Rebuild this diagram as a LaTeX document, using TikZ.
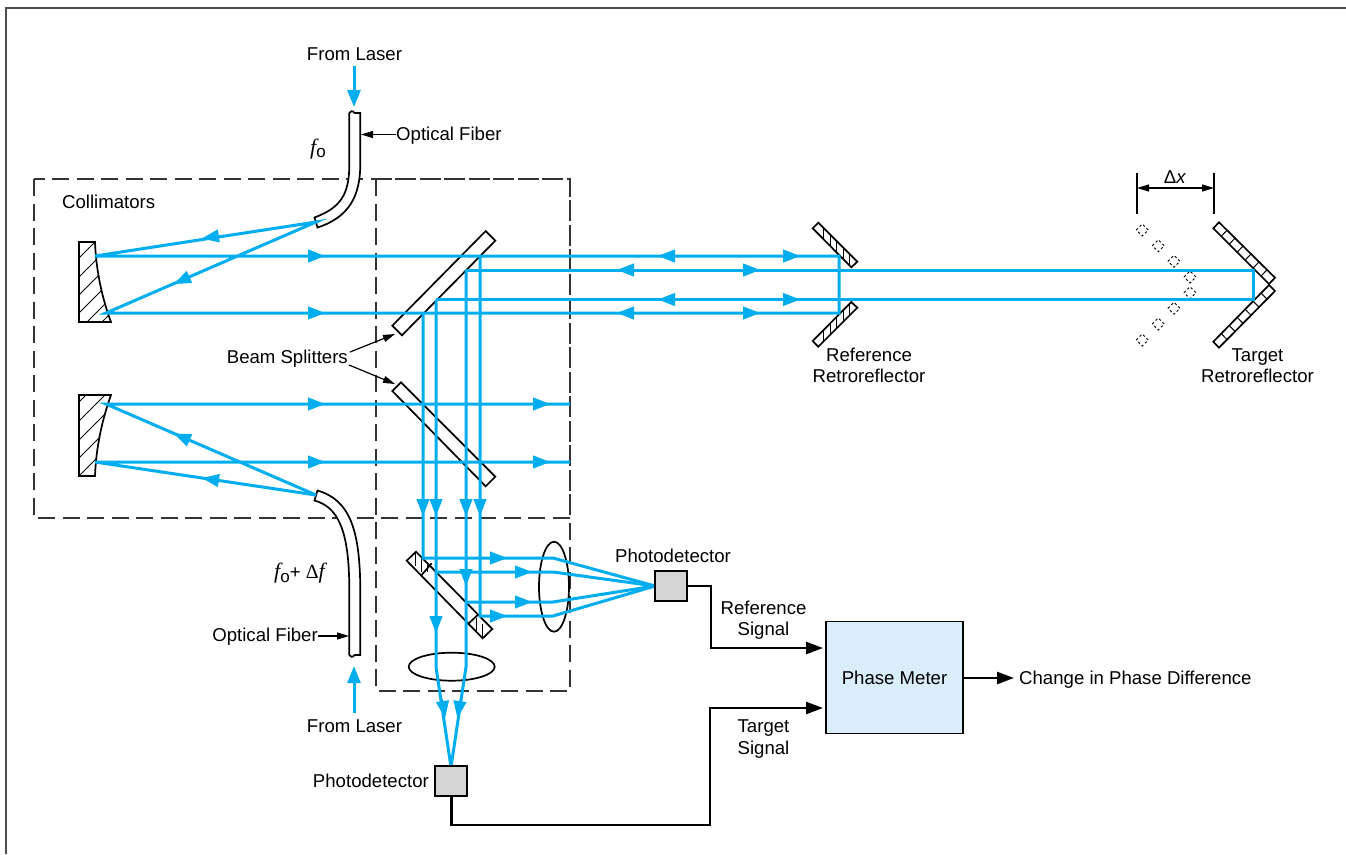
\documentclass[tikz,border=0pt]{standalone}
\usepackage{fontspec}
\setmainfont{Liberation Sans}
\newfontfamily\serifit{Liberation Serif}
\usetikzlibrary{arrows.meta,calc}
\definecolor{beamc}{HTML}{00AEEF}
\definecolor{dashc}{HTML}{333333}
\definecolor{pdgray}{HTML}{D4D4D4}
\definecolor{meterc}{HTML}{DAEDFB}
\tikzset{
  lab/.style={font=\fontsize{18.6}{21.3}\selectfont,align=center,inner sep=0pt},
  beam/.style={draw=beamc,line width=3pt,line join=miter},
  head/.style={draw=beamc,line width=1pt,-{Triangle[length=17pt,width=13pt,fill=beamc]}},
  frameline/.style={draw=black!70,line width=2pt},
  box/.style={draw=dashc,line width=1.5pt,dash pattern=on 17pt off 7.5pt},
  optic/.style={draw=black,line width=1.7pt,fill=white,line join=miter},
  hatch/.style={draw=black,line width=1pt},
  thinarrow/.style={draw=black,line width=1.2pt,-{Triangle[length=12pt,width=7pt,fill=black]}},
  signal/.style={draw=black,line width=2.4pt,-{Triangle[length=17pt,width=12pt,fill=black]}},
  detector/.style={draw=black,line width=1.8pt,fill=pdgray,minimum width=32pt,minimum height=30pt,inner sep=0pt},
  meter/.style={draw=black,line width=1.8pt,fill=meterc,minimum width=137pt,minimum height=112pt,inner sep=0pt,font=\fontsize{18.6}{21}\selectfont},
  ghost/.style={draw=black,line width=.9pt,dash pattern=on 2.4pt off 2.4pt}
}
\newcommand\ah[2]{\draw[head] (#2) -- (#1);}
\newcommand\ff{{\fontsize{22}{22}\selectfont\serifit\itshape f}}
\newcommand\oo{\raisebox{-3.5pt}{\fontsize{17}{17}\selectfont o}}
\begin{document}
\begin{tikzpicture}[x=1pt,y=-1pt]
\useasboundingbox (0,0) rectangle (1346,854);
% frame
\draw[frameline] (5.5,854) -- (5.5,7.5) -- (1346,7.5);
% dashed boxes
\draw[box] (34,179) rectangle (570,518);
\draw[box] (376,179) rectangle (570,691);

% upper mirror
\begin{scope}
 \clip (79,242) -- (95,242) .. controls (96,270) and (102,298) .. (111,322) -- (79,322) -- cycle;
 \foreach \yy in {258,277,295,313,330,345} {\draw[hatch] (79,\yy) -- ++(45,-45);}
\end{scope}
\draw[optic,fill=none] (79,242) -- (95,242) .. controls (96,270) and (102,298) .. (111,322) -- (79,322) -- cycle;
% lower mirror
\begin{scope}
 \clip (79,476) -- (95,476) .. controls (96,448) and (102,420) .. (111,395) -- (79,395) -- cycle;
 \foreach \yy in {402,421,440,458,476} {\draw[hatch] (79,\yy) -- ++(50,-50);}
\end{scope}
\draw[optic,fill=none] (79,476) -- (95,476) .. controls (96,448) and (102,420) .. (111,395) -- (79,395) -- cycle;

% fibers
\draw[optic] (349.3,113) .. controls (350,110.5) and (353,110.5) .. (354.5,113) -- (360.3,113) -- (360.3,165)
  .. controls (360,195) and (350,217) .. (317.5,227.5) -- (314.5,217.5)
  .. controls (340,208) and (349.3,195) .. (349.3,165) -- cycle;
\draw[optic] (349.3,655) .. controls (350,657.5) and (353,657.5) .. (354.5,655) -- (360.3,655) -- (360.3,590)
  .. controls (360,530) and (350,500) .. (317.5,490.5) -- (314.5,500.5)
  .. controls (338,507) and (349.3,530) .. (349.3,590) -- cycle;

% beam splitters
\draw[optic] (485.7,231) -- (495.3,240.7) -- (402,335.3) -- (392.3,325.7) -- cycle;
\draw[optic] (401,382.3) -- (392.3,391) -- (485.7,486.3) -- (495.3,476.7) -- cycle;
\draw[optic] (416,551.7) -- (406.7,560.7) -- (482.7,638.3) -- (492.3,629) -- cycle;
\draw[optic] (431.7,563.3) -- (421,575.7);
\draw[optic] (477.7,615) -- (467.7,624.3);
\foreach \xa/\ya/\ha in {415/553/13,421.7/559/13,427/565/7}
  {\draw[hatch] (\xa,\ya) -- ++(0,\ha);}
\foreach \xa/\ya/\ha in {476/618/13,482.7/624/13}
  {\draw[hatch] (\xa,\ya) -- ++(0,\ha);}

% lenses
\draw[optic,fill=none] (451.7,666.7) ellipse [x radius=43,y radius=14];
\draw[optic,fill=none] (554,586.7) ellipse [x radius=15,y radius=45];

% reference retroreflector
\draw[optic] (818.3,222.7) -- (857.3,261.7) -- (851.3,267.3) -- (812.7,228.3) -- cycle;
\draw[optic] (857.3,307.7) -- (851.3,302) -- (812.7,341) -- (818.3,346.7) -- cycle;
\foreach \xx in {823,830,836.5,843,849.5} {
  \draw[hatch] (\xx,{222.7+\xx-818.3}) -- (\xx,{228.3+\xx-812.7});
  \draw[hatch] (\xx,{346.7-\xx+818.3}) -- (\xx,{341-\xx+812.7});
}
% target retroreflector
\draw[optic] (1219,222.3) -- (1275,277.7) -- (1269,284) -- (1213.3,228.3) -- cycle;
\draw[optic] (1275,291) -- (1269,285) -- (1213.3,341.7) -- (1219,347.7) -- cycle;
\foreach \t in {1,...,6} {
  \draw[hatch] ({1219+56*\t/7},{222.3+55.4*\t/7}) -- ({1213.3+55.7*\t/7},{228.3+55.7*\t/7});
  \draw[hatch] ({1219+56*\t/7},{347.7-56.7*\t/7}) -- ({1213.3+55.7*\t/7},{341.7-56.7*\t/7});
}
% displaced position
\foreach \gx/\gy in {1142.3/230,1158.3/245.7,1174/261.3,1190/277,1190/292.7,1174/308.3,1158.3/324,1142.3/340}
  {\draw[ghost] (\gx-6,\gy) -- (\gx,\gy-6) -- (\gx+6,\gy) -- (\gx,\gy+6) -- cycle;}

% beams: collimated paths
\draw[beam] (316,222) -- (95,256) -- (839,256) -- (839,313) -- (106,313) -- cycle;
\draw[beam] (316,495) -- (95,462) -- (570,462);
\draw[beam] (316,495) -- (106,404) -- (570,404);
\draw[beam] (480,256) -- (480,616) -- (553,616) -- (655,586);
\draw[beam] (466,270) -- (466,667) -- (451,767);
\draw[beam] (436,300) -- (436,667) -- (451,767);
\draw[beam] (423,313) -- (423,558) -- (553,558) -- (655,586);
\draw[beam] (436,572) -- (553,572) -- (655,586);
\draw[beam] (466,602) -- (553,602) -- (655,586);
\draw[beam] (466,270) -- (1253,270) -- (1253,299.5) -- (436,299.5);

\coordinate (laserA) at (354,66);
\coordinate (fiberA) at (354,107);
\coordinate (laserB) at (354,713);
\coordinate (fiberB) at (354,666);
\draw[beam,-{Triangle[length=17pt,width=13pt,fill=beamc]}] (laserA) -- (fiberA);
\draw[beam,-{Triangle[length=17pt,width=13pt,fill=beamc]}] (laserB) -- (fiberB);

% arrowheads
\foreach \yy in {256,313,404,462} {\ah{325,\yy}{300,\yy}}
\foreach \yy in {404,462} {\ah{550,\yy}{525,\yy}}
\foreach \yy in {256,299.5} {\ah{658,\yy}{683,\yy} \ah{800,\yy}{775,\yy}}
\foreach \yy in {270,313} {\ah{617,\yy}{642,\yy} \ah{760,\yy}{735,\yy}}
\ah{202,238.5}{224,235.1}
\ah{174,284}{194,274.8}
\ah{202,478}{224,481.3}
\ah{174,433.5}{194,442.3}
\foreach \xx in {423,436,466,480} {\ah{\xx,516}{\xx,495}}
\ah{507,558}{485,558}
\ah{507,616}{485,616}
\ah{532,572}{510,572}
\ah{532,602}{510,602}
\ah{466,586}{466,565}
\ah{436,633}{436,612}
\ah{445,718}{442.2,699}
\ah{457.5,718}{460.3,699}

% detectors and meter
\node[detector] (pdr) at (671,586) {};
\node[detector] (pdt) at (451.3,781) {};
\node[meter] (pm) at (894.5,677.5) {Phase Meter};
\coordinate (refin) at (823,648);
\coordinate (tgtin) at (823,708);
\coordinate (out) at (1014,678);
\draw[signal] (pdr.east) -- ++(23,0) |- (refin);
\draw[signal] (pdt.south) |- (710,825) |- (tgtin);
\draw[signal] (pm.east |- out) -- (out);

% labels
\node[lab] (fl1) at (354.5,54) {From Laser};
\node[lab] (fl2) at (354.5,726) {From Laser};
\node[lab,anchor=west] (of1) at (396,136) {Optical Fiber};
\node[lab,anchor=east] (of2) at (318,636.5) {Optical Fiber};
\coordinate (of1t) at (361,134.5);
\coordinate (of2t) at (349,636);
\draw[thinarrow] (of1.west |- of1t) -- (of1t);
\draw[thinarrow] (of2.east |- of2t) -- (of2t);
\node[lab,anchor=west] (coll) at (62,202) {Collimators};
\node[lab,anchor=east] (bs) at (348,358.5) {Beam Splitters};
\coordinate (bs1) at (395,334);
\coordinate (bs2) at (395,384);
\draw[thinarrow] (350,352) -- (bs1);
\draw[thinarrow] (349,365) -- (bs2);
\node[lab] (refr) at (869,365.5) {Reference\\Retroreflector};
\node[lab] (tgtr) at (1257.5,365.5) {Target\\Retroreflector};
\node[lab] (pdl1) at (673,556) {Photodetector};
\node[lab,anchor=east] (pdl2) at (429,781) {Photodetector};
\node[lab] (rs) at (763.5,620) {Reference\\Signal};
\node[lab] (ts) at (763.5,739) {Target\\Signal};
\node[lab,anchor=west] (chg) at (1019,680) {Change in Phase Difference};
\node[lab] (f1) at (318,149) {\ff\oo};
\node[lab] (f2) at (299.5,573.5) {\ff\oo+ {\fontsize{20}{20}\selectfont\serifit Δ}\ff};
\node[lab] (dx) at (1175,177) {Δ\textit{x}};
% delta x bar
\coordinate (dxa) at (1137,188);
\coordinate (dxb) at (1214,188);
\draw[draw=black,line width=1.2pt] (1137,173) -- (1137,214);
\draw[draw=black,line width=1.2pt] (1214,173) -- (1214,214);
\draw[draw=black,line width=1.2pt,{Triangle[length=12pt,width=7pt,fill=black]}-{Triangle[length=12pt,width=7pt,fill=black]}] (dxa) -- (dxb);
\end{tikzpicture}
\end{document}
